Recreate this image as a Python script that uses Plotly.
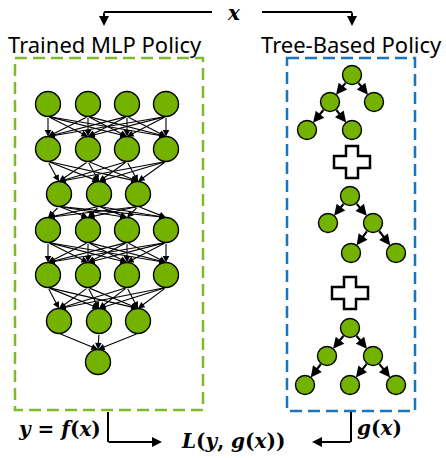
import plotly.graph_objects as go

# ---------------- data ----------------
# MLP layers: number of neurons per layer, and vertical level of each layer
layer_sizes = [4, 4, 3, 4, 4, 3, 1]
layer_y = [104, 149, 194, 230, 275, 321, 362]
x4 = [48, 88, 127, 166]         # x positions for 4-neuron layers
x3 = [59, 99, 138]              # x positions for 3-neuron layers
x1 = [98]                       # x position for the output neuron

# Trees: node positions and parent->child edges (indices)
tree1_x = [352, 330, 374, 307, 352]
tree1_y = [75, 102, 102, 130, 130]
tree1_edges = [(0, 1), (0, 2), (1, 3), (1, 4)]

tree2_x = [350, 328, 373, 351, 396]
tree2_y = [196, 223, 223, 253, 253]
tree2_edges = [(0, 1), (0, 2), (2, 3), (2, 4)]

tree3_x = [350, 327, 373, 305, 350, 396]
tree3_y = [328, 356, 356, 385, 385, 385]
tree3_edges = [(0, 1), (0, 2), (1, 3), (2, 4), (2, 5)]

plus_centers_x = [352, 350]
plus_centers_y = [162, 293]

titles = ["Trained MLP Policy", "Tree-Based Policy"]
# ---------------------------------------

GREEN = "#74B200"
GREEN_BOX = "#7FBA2C"
BLUE_BOX = "#1B75BC"
W, H = 446, 458
R_MLP = 12.5
R_TREE = 9.5

fig = go.Figure()
ann = []
shapes = []

def xs_for(n):
    return {4: x4, 3: x3, 1: x1}[n]

mlp_x, mlp_y = [], []
for n, y in zip(layer_sizes, layer_y):
    for x in xs_for(n):
        mlp_x.append(x)
        mlp_y.append(y)

# MLP edges (full connections)
for li in range(len(layer_sizes) - 1):
    for xa in xs_for(layer_sizes[li]):
        for xb in xs_for(layer_sizes[li + 1]):
            ann.append(dict(
                x=xb, y=layer_y[li + 1] - R_MLP, ax=xa, ay=layer_y[li] + R_MLP,
                xref="x", yref="y", axref="x", ayref="y", text="",
                showarrow=True, arrowhead=2, arrowsize=1.2, arrowwidth=1.1,
                arrowcolor="black"))

fig.add_trace(go.Scatter(
    x=mlp_x, y=mlp_y, mode="markers", hoverinfo="skip",
    marker=dict(size=2 * R_MLP, color=GREEN, line=dict(color="black", width=1.4))))

# Trees
for tx, ty, te in [(tree1_x, tree1_y, tree1_edges),
                   (tree2_x, tree2_y, tree2_edges),
                   (tree3_x, tree3_y, tree3_edges)]:
    for a, b in te:
        ann.append(dict(
            x=tx[b], y=ty[b], ax=tx[a], ay=ty[a],
            xref="x", yref="y", axref="x", ayref="y", text="",
            showarrow=True, arrowhead=2, arrowsize=1, arrowwidth=2.2,
            arrowcolor="black", standoff=R_TREE, startstandoff=R_TREE - 1))
    fig.add_trace(go.Scatter(
        x=tx, y=ty, mode="markers", hoverinfo="skip",
        marker=dict(size=2 * R_TREE, color=GREEN, line=dict(color="black", width=1.4))))

# Plus signs
for cx, cy in zip(plus_centers_x, plus_centers_y):
    hx, hy, t = 18, 16, 6
    pts = [(cx - t, cy - hy), (cx + t, cy - hy), (cx + t, cy - t), (cx + hx, cy - t),
           (cx + hx, cy + t), (cx + t, cy + t), (cx + t, cy + hy), (cx - t, cy + hy),
           (cx - t, cy + t), (cx - hx, cy + t), (cx - hx, cy - t), (cx - t, cy - t)]
    path = "M " + " L ".join(f"{px},{py}" for px, py in pts) + " Z"
    shapes.append(dict(type="path", path=path, xref="x", yref="y",
                       fillcolor="white", line=dict(color="black", width=2.5)))

# Dashed boxes
shapes.append(dict(type="rect", x0=15, x1=203, y0=58, y1=410, xref="x", yref="y",
                   line=dict(color=GREEN_BOX, width=2.5, dash="12px,6px")))
shapes.append(dict(type="rect", x0=287, x1=415, y0=58, y1=411, xref="x", yref="y",
                   line=dict(color=BLUE_BOX, width=2.5, dash="12px,6px")))

# Top input arrows
shapes.append(dict(type="path", path="M 212,12 L 104,12", xref="x", yref="y",
                   line=dict(color="black", width=2)))
shapes.append(dict(type="path", path="M 262,12 L 352,12", xref="x", yref="y",
                   line=dict(color="black", width=2)))
for xx in [104, 352]:
    ann.append(dict(x=xx, y=26, ax=xx, ay=11, xref="x", yref="y", axref="x", ayref="y",
                    text="", showarrow=True, arrowhead=2, arrowsize=1, arrowwidth=2,
                    arrowcolor="black"))

# Bottom output arrows
shapes.append(dict(type="path", path="M 108,412 L 108,442", xref="x", yref="y",
                   line=dict(color="black", width=2)))
ann.append(dict(x=162, y=442, ax=107, ay=442, xref="x", yref="y", axref="x", ayref="y",
                text="", showarrow=True, arrowhead=2, arrowsize=1, arrowwidth=2,
                arrowcolor="black"))
shapes.append(dict(type="path", path="M 351,412 L 351,442", xref="x", yref="y",
                   line=dict(color="black", width=2)))
ann.append(dict(x=312, y=442, ax=352, ay=442, xref="x", yref="y", axref="x", ayref="y",
                text="", showarrow=True, arrowhead=2, arrowsize=1, arrowwidth=2,
                arrowcolor="black"))

# Texts
TITLE_FONT = dict(family="Noto Sans, sans-serif", size=22, color="black")
MATH_FONT = dict(family="DejaVu Serif, serif", size=20, color="black")
ann.append(dict(x=105, y=44, text=titles[0], showarrow=False, xref="x", yref="y",
                font=TITLE_FONT))
ann.append(dict(x=351, y=44, text=titles[1], showarrow=False, xref="x", yref="y",
                font=TITLE_FONT))
ann.append(dict(x=234, y=13, text="<b><i>x</i></b>", showarrow=False, xref="x", yref="y",
                borderpad=0, font=dict(family=MATH_FONT["family"], size=20, color="black")))
ann.append(dict(x=59, y=429, text="<b><i>y</i> = <i>f</i>(<i>x</i>)</b>", showarrow=False,
                xref="x", yref="y", font=MATH_FONT))
ann.append(dict(x=233, y=441, text="<b><i>L</i>(<i>y</i>, <i>g</i>(<i>x</i>))</b>",
                showarrow=False, xref="x", yref="y", font=MATH_FONT))
ann.append(dict(x=379, y=428, text="<b><i>g</i>(<i>x</i>)</b>", showarrow=False,
                xref="x", yref="y", font=MATH_FONT))

fig.update_layout(
    width=W, height=H, margin=dict(l=0, r=0, t=0, b=0),
    paper_bgcolor="white", plot_bgcolor="white", showlegend=False,
    xaxis=dict(range=[0, W], visible=False, fixedrange=True),
    yaxis=dict(range=[H, 0], visible=False, fixedrange=True),
    annotations=ann, shapes=shapes,
)
# remove the browser's default 8px body margin so the figure fills the window
fig.write_html("out.html", config={"displayModeBar": False, "staticPlot": True},
               post_script="document.body.style.margin='0';document.body.style.overflow='hidden';")
